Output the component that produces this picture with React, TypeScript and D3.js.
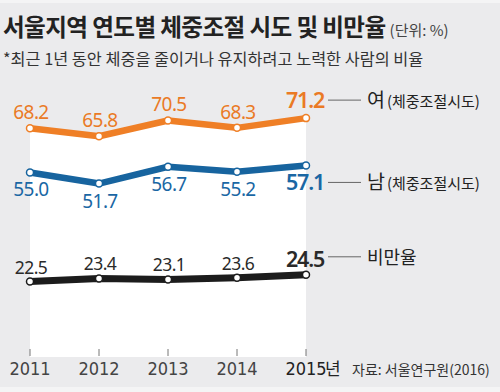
import { useEffect, useRef } from "react";
import * as d3 from "d3";

const years = ["2011", "2012", "2013", "2014", "2015"];
const female = [68.2, 65.8, 70.5, 68.3, 71.2];
const male = [55.0, 51.7, 56.7, 55.2, 57.1];
const obesity = [22.5, 23.4, 23.1, 23.6, 24.5];

const series = [
  { key: "female", values: female, color: "#ef7f26", text: "#ea7a25", labelPos: "above", name: "여", sub: "(체중조절시도)" },
  { key: "male", values: male, color: "#17649f", text: "#1a67a4", labelPos: "below", name: "남", sub: "(체중조절시도)" },
  { key: "obesity", values: obesity, color: "#1c1c1c", text: "#2a2a2a", labelPos: "above", name: "비만율", sub: "" },
];

const FONT = "'Noto Sans CJK KR', 'Noto Sans', sans-serif";

export default function App() {
  const svgRef = useRef(null);

  useEffect(() => {
    const svg = d3.select(svgRef.current);
    svg.selectAll("*").remove();

    const width = 500;
    const height = 392;

    svg.attr("width", width).attr("height", height);

    svg.append("rect").attr("width", width).attr("height", height).attr("fill", "#f4f4f5");
    svg.append("rect").attr("y", 3).attr("width", width).attr("height", 384).attr("fill", "#ebebed");

    const x = d3.scalePoint().domain(years).range([30, 306]);
    const y = d3.scaleLinear().domain([0, 80]).range([357, 88.6]);

    // title
    svg
      .append("text")
      .attr("x", 3)
      .attr("y", 36)
      .attr("font-family", FONT)
      .attr("font-size", 23.6)
      .attr("font-weight", 700)
      .attr("letter-spacing", -0.6)
      .attr("fill", "#222")
      .text("서울지역 연도별 체중조절 시도 및 비만율")
      .append("tspan")
      .attr("dx", 4)
      .attr("font-size", 15)
      .attr("font-weight", 400)
      .attr("letter-spacing", 0)
      .attr("fill", "#444")
      .text("(단위: %)");

    svg
      .append("text")
      .attr("x", 3)
      .attr("y", 65)
      .attr("font-family", FONT)
      .attr("font-size", 16.3)
      .attr("fill", "#333")
      .text("*최근 1년 동안 체중을 줄이거나 유지하려고 노력한 사람의 비율");

    // white area under female line
    const area = d3
      .area()
      .x((d, i) => x(years[i]))
      .y0(y(0))
      .y1((d) => y(d));

    svg.append("path").datum(female).attr("d", area).attr("fill", "#ffffff");

    // ticks
    svg
      .selectAll("line.tick")
      .data(years)
      .enter()
      .append("line")
      .attr("class", "tick")
      .attr("x1", (d) => x(d))
      .attr("x2", (d) => x(d))
      .attr("y1", y(0) - 8)
      .attr("y2", y(0) - 1)
      .attr("stroke", "#777")
      .attr("stroke-width", 1);

    svg
      .selectAll("text.year")
      .data(years)
      .enter()
      .append("text")
      .attr("class", "year")
      .attr("x", (d) => x(d))
      .attr("y", 375)
      .attr("text-anchor", "middle")
      .attr("font-family", "'Liberation Sans Narrow', 'DejaVu Sans Condensed', sans-serif")
      .attr("font-size", 18)
      .attr("fill", (d, i) => (i === years.length - 1 ? "#222" : "#444"))
      .text((d) => d);

    svg
      .append("text")
      .attr("x", x("2015") + 19)
      .attr("y", 375)
      .attr("font-family", FONT)
      .attr("font-size", 17)
      .attr("fill", "#222")
      .text("년");

    svg
      .append("text")
      .attr("x", 352)
      .attr("y", 375)
      .attr("font-family", FONT)
      .attr("font-size", 14)
      .attr("fill", "#333")
      .text("자료: 서울연구원(2016)");

    const line = d3
      .line()
      .x((d, i) => x(years[i]))
      .y((d) => y(d));

    series.forEach((s) => {
      const g = svg.append("g");
      g.append("path")
        .datum(s.values)
        .attr("d", line)
        .attr("fill", "none")
        .attr("stroke", s.color)
        .attr("stroke-width", s.key === "obesity" ? 7 : 6.5)
        .attr("stroke-linejoin", "round");

      g.selectAll("circle")
        .data(s.values)
        .enter()
        .append("circle")
        .attr("cx", (d, i) => x(years[i]))
        .attr("cy", (d) => y(d))
        .attr("r", 3.5)
        .attr("fill", "#fff")
        .attr("stroke", s.color)
        .attr("stroke-width", 1.5);

      const last = s.values.length - 1;
      g.selectAll("text.val")
        .data(s.values)
        .enter()
        .append("text")
        .attr("class", "val")
        .attr("x", (d, i) => x(years[i]) + (i === last ? -1 : 1))
        .attr("y", (d, i) => {
          if (s.labelPos === "below") return y(d) + (i === last ? 25 : 24);
          return y(d) - (s.key === "obesity" ? 8 : i === last ? 10 : 9);
        })
        .attr("text-anchor", "middle")
        .attr("font-family", "'Noto Sans', sans-serif")
        .attr("font-size", (d, i) => (i === last ? 21.5 : s.key === "obesity" ? 17.5 : 19))
        .attr("font-weight", (d, i) => (i === last ? 600 : 400))
        .attr("letter-spacing", (d, i) => (i === last ? -1.2 : -0.6))
        .attr("fill", s.text)
        .text((d) => d.toFixed(1));

      // legend
      const ly = y(s.values[last]) - (s.key === "male" ? -17 : 18);
      g.append("line")
        .attr("x1", 328)
        .attr("x2", 361)
        .attr("y1", ly)
        .attr("y2", ly)
        .attr("stroke", "#666")
        .attr("stroke-width", 1);

      const t = g
        .append("text")
        .attr("x", 367)
        .attr("y", ly + 7)
        .attr("font-family", FONT)
        .attr("font-size", s.key === "obesity" ? 18 : 19.5)
        .attr("fill", "#222")
        .text(s.name);
      if (s.sub) {
        t.append("tspan").attr("dx", 2).attr("font-size", 15).text(s.sub);
      }
    });
  }, []);

  return (
    <svg
      ref={svgRef}
      style={{ position: "fixed", top: 0, left: 0, display: "block" }}
    ></svg>
  );
}
